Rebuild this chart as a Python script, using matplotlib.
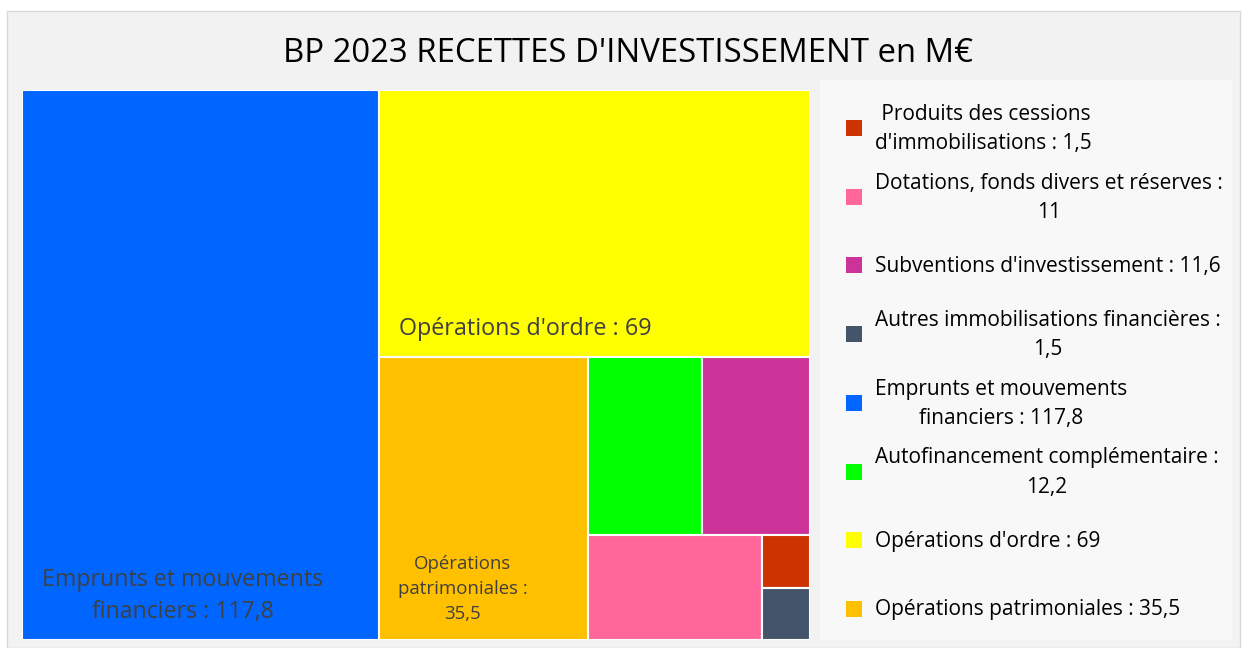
import matplotlib.pyplot as plt
from matplotlib.patches import Rectangle

plt.rcParams['font.family'] = ['Open Sans', 'DejaVu Sans']

# data, in legend order
categories = ["Produits des cessions d'immobilisations",
              "Dotations, fonds divers et réserves",
              "Subventions d'investissement",
              "Autres immobilisations financières",
              "Emprunts et mouvements financiers",
              "Autofinancement complémentaire",
              "Opérations d'ordre",
              "Opérations patrimoniales"]
values = [1.5, 11, 11.6, 1.5, 117.8, 12.2, 69, 35.5]
colors = ["#CC3300", "#FF6699", "#CC3399", "#44546A",
          "#0066FF", "#00FF00", "#FFFF00", "#FFC000"]
legend_labels = [" Produits des cessions\nd'immobilisations : 1,5",
                 "Dotations, fonds divers et réserves :\n11",
                 "Subventions d'investissement : 11,6",
                 "Autres immobilisations financières :\n1,5",
                 "Emprunts et mouvements\nfinanciers : 117,8",
                 "Autofinancement complémentaire :\n12,2",
                 "Opérations d'ordre : 69",
                 "Opérations patrimoniales : 35,5"]
tile_labels = {"Emprunts et mouvements financiers": "Emprunts et mouvements\nfinanciers : 117,8",
               "Opérations d'ordre": "Opérations d'ordre : 69",
               "Opérations patrimoniales": "Opérations\npatrimoniales :\n35,5"}


def worst(row, side):
    s = sum(row)
    return max(max(side * side * r / (s * s), s * s / (side * side * r)) for r in row)


def squarify(sizes, x, y, w, h):
    # squarified treemap, y grows downward
    rects = []
    sizes = list(sizes)
    while sizes:
        side = min(w, h)
        row = [sizes.pop(0)]
        while sizes and worst(row + [sizes[0]], side) <= worst(row, side):
            row.append(sizes.pop(0))
        s = sum(row)
        if w >= h:
            cw = s / h
            yy = y
            for r in row:
                rects.append((x, yy, cw, r / cw))
                yy += r / cw
            x += cw
            w -= cw
        else:
            rh = s / w
            xx = x
            for r in row:
                rects.append((xx, y, r / rh, rh))
                xx += r / rh
            y += rh
            h -= rh
    return rects


W, H = 788, 550
order = sorted(range(len(values)), key=lambda i: -values[i])
total = sum(values)
areas = [values[i] / total * W * H for i in order]
rects = squarify(areas, 0, 0, W, H)

fig = plt.figure(figsize=(12.44, 6.48), dpi=100, facecolor='white')
fig.patches.append(Rectangle((7 / 1244, 0), 1233 / 1244, 637 / 648, transform=fig.transFigure,
                             facecolor='#F2F2F2', edgecolor='#D9D9D9', lw=1, zorder=-10))
fig.text(628 / 1244, 1 - 53 / 648, "BP 2023 RECETTES D'INVESTISSEMENT en M€",
         ha='center', va='center', fontsize=23.7, color='#000000')

ax = fig.add_axes([22 / 1244, 8 / 648, W / 1244, H / 648])
ax.set_xlim(0, W)
ax.set_ylim(H, 0)
ax.axis('off')

# label placement inside tiles (fraction of tile)
label_pos = {"Emprunts et mouvements financiers": (0.45, 0.92, 'center', 16.7, 1.45),
             "Opérations d'ordre": (0.047, 0.895, 'left', 16.8, 1.2),
             "Opérations patrimoniales": (0.40, 0.82, 'center', 13.4, 1.5)}

for (rx, ry, rw, rh), i in zip(rects, order):
    ax.add_patch(Rectangle((rx, ry), rw, rh, facecolor=colors[i], edgecolor='white', lw=1.5))
    name = categories[i]
    if name in tile_labels:
        fx, fy, ha, fs, ls = label_pos[name]
        ax.text(rx + fx * rw, ry + fy * rh, tile_labels[name], ha=ha, va='center',
                multialignment='center', fontsize=fs, color='#404040', linespacing=ls)

# legend panel
lax = fig.add_axes([820 / 1244, 8 / 648, 412 / 1244, 560 / 648])
lax.set_facecolor('#F8F8F8')
lax.set_xlim(0, 412)
lax.set_ylim(560, 0)
lax.set_xticks([])
lax.set_yticks([])
for sp in lax.spines.values():
    sp.set_visible(False)

clip = Rectangle((0, 0), 402 / 412, 1, transform=lax.transAxes, visible=False)
lax.add_patch(clip)
for k, lab in enumerate(legend_labels):
    yk = 47 + 68.7 * k
    lax.add_patch(Rectangle((26, yk - 7), 16, 16, facecolor=colors[k], edgecolor='none'))
    t = lax.text(55, yk + 2, lab, ha='left', va='center', multialignment='center',
                 fontsize=15, color='#000000', linespacing=1.5)
    t.set_clip_path(clip)

plt.savefig("out.png", dpi=100)
